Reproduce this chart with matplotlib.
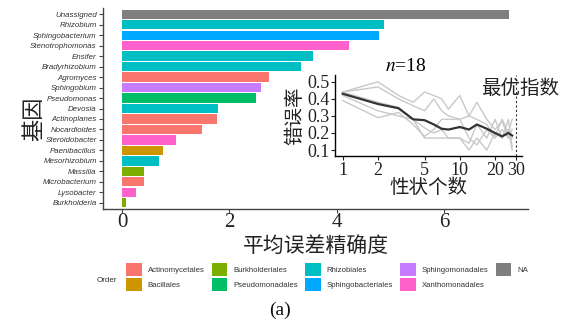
import matplotlib
matplotlib.use("Agg")
import matplotlib.pyplot as plt
from matplotlib.patches import Patch

# ---- data -------------------------------------------------------------
genera = ["Unassigned", "Rhizobium", "Sphingobacterium", "Stenotrophomonas",
          "Ensifer", "Bradyrhizobium", "Agromyces", "Sphingobium",
          "Pseudomonas", "Devosia", "Actinoplanes", "Nocardioides",
          "Steroidobacter", "Paenibacillus", "Mesorhizobium", "Massilia",
          "Microbacterium", "Lysobacter", "Burkholderia"]
accuracy = [7.21, 4.88, 4.79, 4.23, 3.55, 3.33, 2.74, 2.59, 2.49, 1.78,
            1.76, 1.48, 1.01, 0.75, 0.68, 0.40, 0.40, 0.25, 0.07]
genus_order = ["NA", "Rhizobiales", "Sphingobacteriales", "Xanthomonadales",
               "Rhizobiales", "Rhizobiales", "Actinomycetales", "Sphingomonadales",
               "Pseudomonadales", "Rhizobiales", "Actinomycetales", "Actinomycetales",
               "Xanthomonadales", "Bacillales", "Rhizobiales", "Burkholderiales",
               "Actinomycetales", "Xanthomonadales", "Burkholderiales"]

orders = ["Actinomycetales", "Bacillales", "Burkholderiales", "Pseudomonadales",
          "Rhizobiales", "Sphingobacteriales", "Sphingomonadales",
          "Xanthomonadales", "NA"]
order_colors = ["#F8766D", "#CD9600", "#7CAE00", "#00BE67", "#00BFC4",
                "#00A9FF", "#C77CFF", "#FF61CC", "#7F7F7F"]

# error rate versus number of traits (inset)
n_traits = [1, 2, 3, 4, 5, 6, 7, 8, 10, 12, 14, 17, 20, 23, 26, 28]
mean_err = [0.43, 0.37, 0.345, 0.28, 0.275, 0.25, 0.225, 0.22, 0.235, 0.22,
            0.25, 0.225, 0.20, 0.18, 0.20, 0.185]
run_a = [0.44, 0.50, 0.42, 0.38, 0.44, 0.42, 0.40, 0.34, 0.42, 0.30, 0.38,
         0.28, 0.22, 0.27, 0.17, 0.22]
run_b = [0.44, 0.47, 0.40, 0.36, 0.33, 0.40, 0.33, 0.30, 0.28, 0.30, 0.28,
         0.25, 0.18, 0.28, 0.20, 0.28]
run_c = [0.42, 0.33, 0.30, 0.28, 0.23, 0.20, 0.22, 0.17, 0.17, 0.14, 0.25,
         0.17, 0.28, 0.17, 0.28, 0.12]
run_d = [0.39, 0.29, 0.32, 0.25, 0.18, 0.22, 0.28, 0.28, 0.28, 0.17, 0.13,
         0.22, 0.17, 0.22, 0.17, 0.17]
run_e = [0.44, 0.38, 0.35, 0.28, 0.17, 0.17, 0.17, 0.17, 0.17, 0.10, 0.17,
         0.10, 0.20, 0.17, 0.22, 0.10]
runs = [run_a, run_b, run_c, run_d, run_e]
optimal_n = 30
x_ticks_inset = [1, 2, 5, 10, 20, 30]
y_ticks_inset = [0.1, 0.2, 0.3, 0.4, 0.5]
x_ticks_main = [0, 2, 4, 6]

# ---- fonts ------------------------------------------------------------
CJK = ["Noto Sans CJK SC", "DejaVu Sans"]
SERIF = ["Liberation Serif", "DejaVu Serif"]
SANS = ["Liberation Sans", "DejaVu Sans"]
plt.rcParams["font.family"] = SANS
plt.rcParams["mathtext.fontset"] = "stix"

color_map = dict(zip(orders, order_colors))

fig = plt.figure(figsize=(5.65, 3.23), dpi=100)
W, H = 565, 323

def fr(x0, y0, x1, y1):
    return [x0 / W, 1 - y1 / H, (x1 - x0) / W, (y1 - y0) / H]

# ---- main bar chart ---------------------------------------------------
ax = fig.add_axes(fr(103, 8, 528, 209))
ypos = list(range(len(genera)))[::-1]
ax.barh(ypos, accuracy, height=0.9,
        color=[color_map[o] for o in genus_order], edgecolor="none")
ax.set_yticks(ypos)
ax.set_yticklabels(genera, fontstyle="italic", fontsize=5.7, color="#333333",
                   family=SANS)
ax.set_ylim(-0.6, len(genera) - 0.4)
xmax = max(accuracy)
ax.set_xlim(-0.05 * xmax, 1.05 * xmax)
ax.set_xticks(x_ticks_main)
ax.set_xticklabels([str(t) for t in x_ticks_main], family=SERIF, fontsize=15,
                   color="#222222")
for s in ("top", "right"):
    ax.spines[s].set_visible(False)
for s in ("left", "bottom"):
    ax.spines[s].set_color("#444444")
    ax.spines[s].set_linewidth(1.0)
ax.tick_params(axis="both", colors="#444444", length=3, width=0.8, pad=1.5)
ax.tick_params(axis="x", labelcolor="#222222", pad=0)
ax.tick_params(axis="y", labelcolor="#333333")
ax.set_xlabel("平均误差精确度", family=CJK, fontsize=15, color="#222222",
              labelpad=2)
ax.set_ylabel("基因", family=CJK, fontsize=16, color="#222222")
ax.yaxis.set_label_coords(-0.135, 0.45)

# ---- inset: error rate vs number of traits ---------------------------
ins = fig.add_axes(fr(335, 75, 522, 156))
ins.set_facecolor("none")
for r in runs:
    ins.plot(n_traits, r, color="#c9c9c9", lw=1.0, zorder=1)
ins.plot(n_traits, mean_err, color="#333333", lw=1.6, zorder=3)
ins.axvline(optimal_n, color="#333333", lw=0.8, ls=(0, (2, 2)), zorder=2)
ins.set_xscale("log")
ins.set_xlim(0.86, 34)
ins.set_ylim(0.065, 0.54)
ins.set_xticks(x_ticks_inset)
ins.set_xticklabels([str(t) for t in x_ticks_inset], family=SERIF, fontsize=13)
ins.minorticks_off()
ins.set_yticks(y_ticks_inset)
ins.set_yticklabels([f"{t:.1f}" for t in y_ticks_inset], family=SERIF,
                    fontsize=13)
for s in ("top", "right"):
    ins.spines[s].set_visible(False)
for s in ("left", "bottom"):
    ins.spines[s].set_linewidth(1.0)
ins.tick_params(axis="both", length=3, width=0.8, pad=1, colors="#222222")
ins.set_xlabel("性状个数", family=CJK, fontsize=14, labelpad=-1, color="#222222")
ins.set_ylabel("错误率", family=CJK, fontsize=14, labelpad=1, color="#222222")
ins.set_title("$n$=18", family=SERIF, fontsize=14, loc="center", pad=1,
              x=0.38)
fig.text(481 / W, 1 - 88 / H, "最优指数", family=CJK, fontsize=14,
         color="#222222", va="center", ha="left")

# ---- legend -----------------------------------------------------------
handles = [Patch(facecolor=c, edgecolor="none", label=o)
           for o, c in zip(orders, order_colors)]
fig.legend(handles=handles, loc="upper left",
           bbox_to_anchor=(126 / W, 1 - 263 / H), ncol=5, frameon=False,
           fontsize=5.6, handlelength=2.0, handleheight=2.2,
           handletextpad=0.8, columnspacing=0.9, labelspacing=0.3,
           borderpad=0, borderaxespad=0, labelcolor="#333333")
fig.text(107 / W, 1 - 280 / H, "Order", fontsize=5.8, color="#333333",
         ha="center", va="center")
fig.text(280 / W, 1 - 310 / H, "(a)", family=SERIF, fontsize=14,
         color="#111111", ha="center", va="center")

fig.savefig("out.png", dpi=100, facecolor="white")
